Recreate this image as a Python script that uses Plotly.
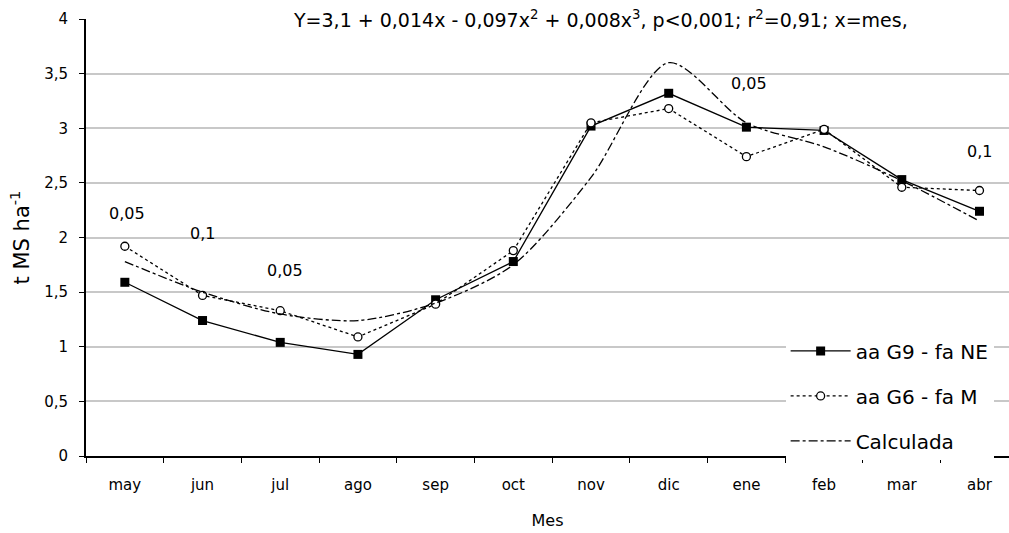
import plotly.graph_objects as go

months = ["may", "jun", "jul", "ago", "sep", "oct", "nov", "dic", "ene", "feb", "mar", "abr"]
g9 = [1.59, 1.24, 1.04, 0.93, 1.43, 1.78, 3.02, 3.32, 3.01, 2.98, 2.53, 2.24]
g6 = [1.92, 1.47, 1.33, 1.09, 1.39, 1.88, 3.05, 3.18, 2.74, 2.99, 2.46, 2.43]
calc = [1.78, 1.50, 1.30, 1.24, 1.40, 1.75, 2.55, 3.60, 3.05, 2.83, 2.52, 2.15]
sig_months = ["may", "jun", "jul", "ene", "abr"]
sig_labels = ["0,05", "0,1", "0,05", "0,05", "0,1"]
sig_y = [2.22, 2.04, 1.70, 3.41, 2.79]
y_ticks = [0, 0.5, 1, 1.5, 2, 2.5, 3, 3.5, 4]
y_ticktext = ["0", "0,5", "1", "1,5", "2", "2,5", "3", "3,5", "4"]

FONT = "DejaVu Sans"

fig = go.Figure()
fig.add_trace(go.Scatter(
    x=months, y=g9, name="aa G9 - fa NE", mode="lines+markers",
    line=dict(color="black", width=1.3),
    marker=dict(symbol="square", size=9, color="black"),
    legendgroup="a"))
fig.add_trace(go.Scatter(
    x=months, y=g6, name="aa G6 - fa M", mode="lines+markers",
    line=dict(color="black", width=1.3, dash="dot"),
    marker=dict(symbol="circle", size=8, color="white", line=dict(color="black", width=1.3)),
    legendgroup="b"))
fig.add_trace(go.Scatter(
    x=months, y=calc, name="Calculada", mode="lines",
    line=dict(color="black", width=1.3, dash="dashdot", shape="spline", smoothing=0.8),
    legendgroup="c"))

shifts = [2, 0, 5, 3, 0]
for m, t, yy, s in zip(sig_months, sig_labels, sig_y, shifts):
    fig.add_annotation(x=m, y=yy, text=t, showarrow=False, xshift=s,
                       font=dict(family=FONT, size=16, color="black"))

fig.add_annotation(
    x=0.557, xref="paper", y=4, yref="y",
    text="Y=3,1 + 0,014x - 0,097x<sup>2</sup> + 0,008x<sup>3</sup>, p<0,001; r<sup>2</sup>=0,91; x=mes,",
    showarrow=False, bgcolor="white", font=dict(family=FONT, size=19, color="black"))

fig.update_layout(
    width=1009, height=533,
    margin=dict(l=86, r=0, t=19, b=77),
    paper_bgcolor="white", plot_bgcolor="white",
    font=dict(family=FONT, size=15, color="black"),
    showlegend=True,
    legend=dict(x=0.758, y=0.285, xanchor="left", yanchor="top",
                bgcolor="white", font=dict(family=FONT, size=20),
                tracegroupgap=16, itemwidth=60),
    xaxis=dict(type="category", range=[-0.5, 11.38], showgrid=False,
               showline=True, linecolor="black", linewidth=2,
               ticks="outside", tickson="boundaries", ticklen=5, tickcolor="black",
               ticklabelstandoff=14,
               title=dict(text="Mes", font=dict(family=FONT, size=16), standoff=22),
               tickfont=dict(family=FONT, size=15)),
    yaxis=dict(range=[0, 4], tickvals=y_ticks, ticktext=y_ticktext,
               showgrid=True, gridcolor="#c8c8c8", gridwidth=2,
               showline=True, linecolor="black", linewidth=2,
               ticks="outside", ticklen=5, tickcolor="black", zeroline=False,
               ticklabelstandoff=8,
               title=dict(text="t MS ha<sup>-1</sup>", font=dict(family=FONT, size=21), standoff=9),
               tickfont=dict(family=FONT, size=15)),
)

fig.write_html("out.html")
